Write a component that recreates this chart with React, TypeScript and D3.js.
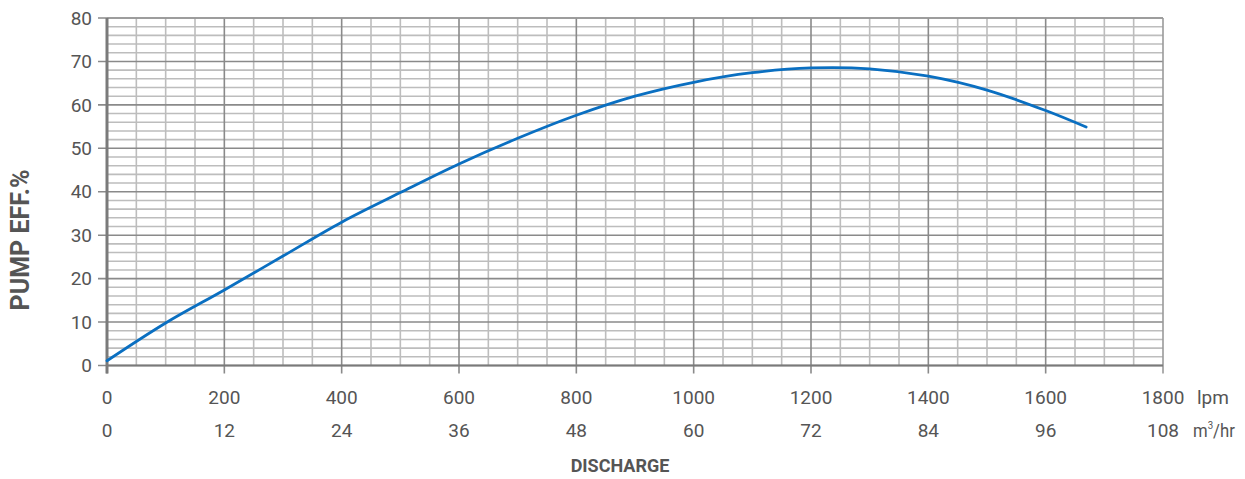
import React from "react";
import * as d3 from "d3";

const discharge = [0, 100, 200, 300, 400, 500, 600, 700, 800, 900, 1000, 1100, 1200, 1300, 1400, 1500, 1600, 1669];
const efficiency = [1.1, 9.8, 17.4, 25.2, 33.0, 39.8, 46.4, 52.3, 57.6, 62.0, 65.2, 67.4, 68.5, 68.3, 66.6, 63.4, 58.7, 54.9];
const lpmTicks = [0, 200, 400, 600, 800, 1000, 1200, 1400, 1600, 1800];
const m3Ticks = ["0", "12", "24", "36", "48", "60", "72", "84", "96", "108"];
const yTicks = [0, 10, 20, 30, 40, 50, 60, 70, 80];

const W = 1245, H = 479;
const L = 107, R = 1163, T = 18, B = 365.5;
const FONT = "Roboto, 'Liberation Sans', sans-serif";

export default function App() {
  const x = d3.scaleLinear().domain([0, 1800]).range([L, R]);
  const y = d3.scaleLinear().domain([0, 80]).range([B, T]);
  const minorX = d3.range(0, 1801, 50).filter((v) => v % 200 !== 0);
  const minorY = d3.range(0, 81, 2).filter((v) => v % 10 !== 0);
  const line = d3
    .line<number>()
    .x((_, i) => x(discharge[i]))
    .y((d) => y(d))
    .curve(d3.curveCatmullRom.alpha(0.5));
  const text = "#555";
  return (
    <svg width={W} height={H} style={{ position: "absolute", left: 0, top: 0 }}>
      <rect width={W} height={H} fill="#fff" />
      {minorX.map((v) => (
        <line key={"mx" + v} x1={x(v)} x2={x(v)} y1={T} y2={B} stroke="#bdbdbd" strokeWidth={1.6} />
      ))}
      {minorY.map((v) => (
        <line key={"my" + v} x1={L} x2={R} y1={y(v)} y2={y(v)} stroke="#bdbdbd" strokeWidth={1.6} />
      ))}
      {yTicks.map((v) => (
        <line key={"Y" + v} x1={L - 9} x2={R} y1={y(v)} y2={y(v)} stroke="#8a8a8a" strokeWidth={1.6} />
      ))}
      {lpmTicks.map((v) => (
        <line key={"X" + v} x1={x(v)} x2={x(v)} y1={T} y2={B + 8} stroke={v === 1800 ? "#9a9a9a" : "#8a8a8a"} strokeWidth={1.6} />
      ))}
      <line x1={L} x2={R} y1={T} y2={T} stroke="#9a9a9a" strokeWidth={1.6} />
      <line x1={L} x2={R} y1={B} y2={B} stroke="#7a7a7a" strokeWidth={2} />
      <line x1={L} x2={L} y1={T} y2={B + 8} stroke="#7a7a7a" strokeWidth={3} />
      <path d={line(efficiency) || ""} fill="none" stroke="#0a6fc1" strokeWidth={2.8} strokeLinecap="round" />
      {yTicks.map((v) => (
        <text key={"yt" + v} x={L - 15} y={y(v)} dy="0.35em" textAnchor="end" fontFamily={FONT} fontSize={19} fill={text}>
          {v}
        </text>
      ))}
      {lpmTicks.map((v) => (
        <text key={"xt" + v} x={x(v)} y={404} textAnchor="middle" fontFamily={FONT} fontSize={19} fill={text}>
          {v}
        </text>
      ))}
      {m3Ticks.map((v, i) => (
        <text key={"mt" + v} x={x(lpmTicks[i])} y={437} textAnchor="middle" fontFamily={FONT} fontSize={19} fill={text}>
          {v}
        </text>
      ))}
      <text x={1197} y={404} fontFamily={FONT} fontSize={19} fill={text}>lpm</text>
      <g transform="translate(1193,437) scale(0.88,1)">
        <text x={0} y={0} fontFamily={FONT} fontSize={19} fill={text}>
          m<tspan fontSize={11} dy={-8}>3</tspan><tspan dy={8}>/hr</tspan>
        </text>
      </g>
      <text x={620} y={472} textAnchor="middle" fontFamily={FONT} fontSize={18} fontWeight="bold" fill={text}>
        DISCHARGE
      </text>
      <text transform={`translate(29,240) rotate(-90)`} textAnchor="middle" fontFamily={FONT} fontSize={25} fontWeight="bold" fill={text}>
        PUMP EFF.%
      </text>
    </svg>
  );
}
